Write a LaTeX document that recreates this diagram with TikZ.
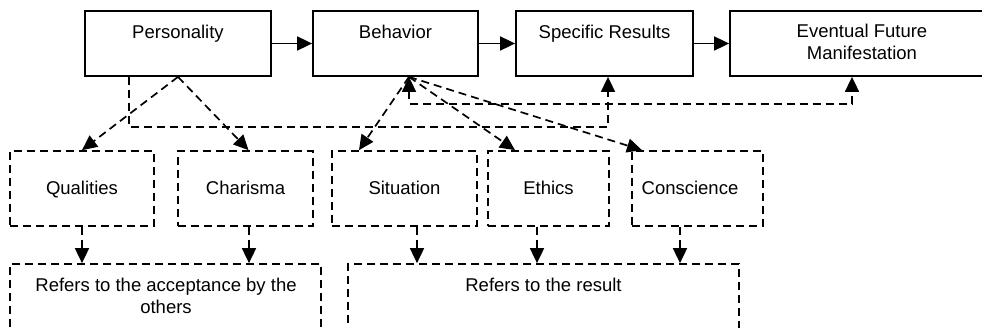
\documentclass[tikz,border=0pt]{standalone}
\usepackage{fontspec}
\setmainfont{Liberation Sans}
\usetikzlibrary{arrows.meta,calc}
\begin{document}
\begin{tikzpicture}[x=1pt,y=-1pt,
 topbox/.style={draw,line width=1.8pt,inner sep=0pt,minimum height=65pt},
 dbox/.style={draw,line width=1.7pt,dash pattern=on 8pt off 5pt,inner sep=0pt},
 lbl/.style={font=\fontsize{18.5}{22}\selectfont,inner sep=0pt,anchor=base,align=center},
 tip/.style={Triangle[length=15pt,width=14pt]},
 solidarrow/.style={line width=1.8pt,-{Triangle[length=15pt,width=14pt]}},
 dasharrow/.style={line width=1.7pt,dash pattern=on 8pt off 5pt,-{Triangle[length=15pt,width=14pt]}},
]
\clip (0,0) rectangle (982,328);
% top boxes
\node[topbox,minimum width=186pt] (pers) at (178,43.5) {};
\node[topbox,minimum width=165pt] (beh) at (395.5,43.5) {};
\node[topbox,minimum width=177pt] (spec) at (604.5,43.5) {};
\node[topbox,minimum width=264pt] (eve) at (862,43.5) {};
\node[lbl] (perst) at (178,39) {Personality};
\node[lbl] (beht) at (395.5,39) {Behavior};
\node[lbl] (spect) at (604.5,39) {Specific Results};
\node[lbl] (evet) at (862,60) {Eventual Future\\Manifestation};
% middle dashed boxes
\node[dbox,minimum width=144pt,minimum height=75pt] (qual) at (82,188.5) {};
\node[dbox,minimum width=135pt,minimum height=75pt] (char) at (245.5,188.5) {};
\node[dbox,minimum width=145pt,minimum height=75pt] (sit) at (404.5,188.5) {};
\node[dbox,minimum width=121pt,minimum height=75pt] (eth) at (548.5,188.5) {};
\node[dbox,minimum width=131pt,minimum height=75pt] (cons) at (697.5,188.5) {};
\node[lbl] (qualt) at (82,195) {Qualities};
\node[lbl] (chart) at (245.5,195) {Charisma};
\node[lbl] (sitt) at (404.5,195) {Situation};
\node[lbl] (etht) at (548.5,195) {Ethics};
\node[lbl] (const) at (690,195) {Conscience};
% bottom dashed boxes
\node[dbox,minimum width=311pt,minimum height=90pt] (acc) at (165.5,309) {};
\node[dbox,minimum width=391pt,minimum height=90pt] (res) at (543.5,309) {};
\node[lbl] (acct) at (166,313.5) {Refers to the acceptance by the\\others};
\node[lbl] (rest) at (543.5,291.5) {Refers to the result};
% solid connectors
\draw[solidarrow] (pers.east) -- (beh.west);
\draw[solidarrow] (beh.east) -- (spec.west);
\draw[solidarrow] (spec.east) -- (eve.west);
% personality dashed
\draw[dasharrow] (pers.south) -- (qual.north);
\draw[dasharrow] (pers.south) -- ($(char.north)+(3,0)$);
\draw[dasharrow] ($(pers.south west)+(45,0)$) -- ++(0,50) -| ($(spec.south)+(3.5,0)$);
% behavior dashed
\coordinate (bapex) at ($(beh.south)+(13.5,0)$);
\draw[dasharrow,{Triangle[length=15pt,width=14pt]}-{Triangle[length=15pt,width=14pt]}] (bapex) -- ++(0,27) -| ($(eve.south)+(-10,0)$);
\draw[dasharrow] (bapex) -- ($(sit.north)+(-45.5,0)$);
\draw[dasharrow] (bapex) -- ($(eth.north)+(-33.5,0)$);
\draw[dasharrow] (bapex) -- ($(cons.north)+(-55.5,0)$);
% down arrows
\draw[dasharrow] (qual.south) -- (qual.south |- acc.north);
\draw[dasharrow] ($(char.south)+(3.5,0)$) -- ($(char.south |- acc.north)+(3.5,0)$);
\draw[dasharrow] ($(sit.south)+(12.5,0)$) -- ($(sit.south |- res.north)+(12.5,0)$);
\draw[dasharrow] ($(eth.south)+(-11.5,0)$) -- ($(eth.south |- res.north)+(-11.5,0)$);
\draw[dasharrow] ($(cons.south)+(-17.5,0)$) -- ($(cons.south |- res.north)+(-17.5,0)$);
\end{tikzpicture}
\end{document}
